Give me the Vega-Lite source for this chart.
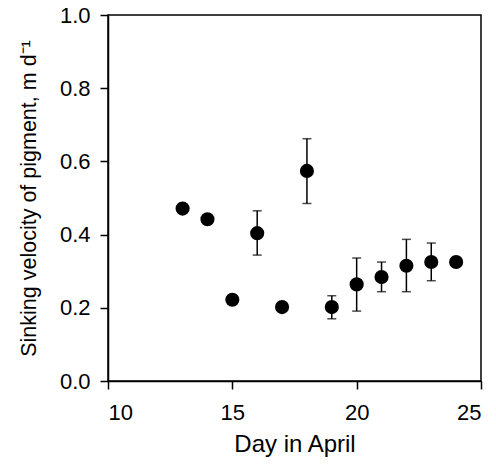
{
  "$schema": "https://vega.github.io/schema/vega-lite/v6.json",
  "autosize": "none",
  "padding": {"left": 108, "top": 15, "right": 15, "bottom": 90},
  "width": 373,
  "height": 366,
  "background": "white",
  "config": {
    "font": "Liberation Sans",
    "view": {"stroke": "black", "strokeWidth": 1.5},
    "axis": {
      "grid": false,
      "domainColor": "black",
      "domainWidth": 1.5,
      "tickColor": "black",
      "tickWidth": 1.5,
      "tickSize": 8,
      "labelColor": "black",
      "labelFont": "Liberation Sans",
      "labelFontSize": 22,
      "titleColor": "black",
      "titleFont": "Liberation Sans",
      "titleFontWeight": "normal"
    }
  },
  "data": {
    "values": [
      {"day": 13, "v": 0.471, "lo": null, "hi": null},
      {"day": 14, "v": 0.442, "lo": null, "hi": null},
      {"day": 15, "v": 0.222, "lo": null, "hi": null},
      {"day": 16, "v": 0.404, "lo": 0.344, "hi": 0.465},
      {"day": 17, "v": 0.202, "lo": null, "hi": null},
      {"day": 18, "v": 0.574, "lo": 0.485, "hi": 0.662},
      {"day": 19, "v": 0.202, "lo": 0.170, "hi": 0.233},
      {"day": 20, "v": 0.264, "lo": 0.191, "hi": 0.336},
      {"day": 21, "v": 0.284, "lo": 0.244, "hi": 0.325},
      {"day": 22, "v": 0.315, "lo": 0.244, "hi": 0.387},
      {"day": 23, "v": 0.325, "lo": 0.274, "hi": 0.377},
      {"day": 24, "v": 0.325, "lo": null, "hi": null}
    ]
  },
  "encoding": {
    "x": {
      "field": "day", "type": "quantitative",
      "scale": {"domain": [10, 25], "nice": false, "zero": false},
      "axis": {"values": [10, 15, 20, 25], "title": "Day in April", "titleFontSize": 24, "labelPadding": 13, "titlePadding": 9}
    }
  },
  "layer": [
    {
      "transform": [{"filter": "datum.lo != null"}],
      "mark": {"type": "rule", "color": "black", "strokeWidth": 1.5},
      "encoding": {
        "y": {"field": "lo", "type": "quantitative"},
        "y2": {"field": "hi"}
      }
    },
    {
      "transform": [{"filter": "datum.lo != null"}],
      "mark": {"type": "tick", "color": "black", "orient": "horizontal", "size": 9, "thickness": 1.5},
      "encoding": {
        "y": {"field": "lo", "type": "quantitative"}
      }
    },
    {
      "transform": [{"filter": "datum.hi != null"}],
      "mark": {"type": "tick", "color": "black", "orient": "horizontal", "size": 9, "thickness": 1.5},
      "encoding": {
        "y": {"field": "hi", "type": "quantitative"}
      }
    },
    {
      "mark": {"type": "circle", "color": "black", "opacity": 1, "size": 200},
      "encoding": {
        "y": {
          "field": "v", "type": "quantitative",
          "scale": {"domain": [0, 1], "nice": false},
          "axis": {"values": [0, 0.2, 0.4, 0.6, 0.8, 1.0], "format": ".1f", "title": "Sinking velocity of pigment, m d⁻¹", "titleFontSize": 21.5, "labelPadding": 10, "titlePadding": 19}
        }
      }
    }
  ]
}
